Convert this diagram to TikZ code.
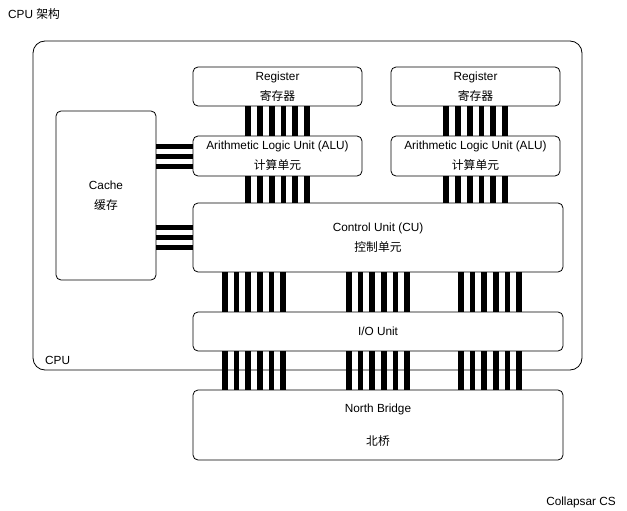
\documentclass[tikz,border=0pt]{standalone}
\usepackage{fontspec}
\setmainfont{Liberation Sans}
\newfontfamily\cjk{Noto Sans CJK SC}
\usetikzlibrary{positioning}

\tikzset{
  unit/.style={draw, line width=0.8pt, rounded corners=5pt, fill=white, align=center,
    inner sep=0pt, font=\fontsize{11.8}{20}\selectfont},
  caption/.style={inner sep=0pt, font=\fontsize{11.8}{14}\selectfont},
  vbus/.style={line width=5.7pt, black},
  hbus/.style={line width=5pt, black}
}

\begin{document}
\begin{tikzpicture}[x=1pt, y=-1pt, node distance=69.5pt, on grid]
   \useasboundingbox (0,0) rectangle (627,511);

   % Outer CPU frame
   \node[draw, line width=0.8pt, rounded corners=12pt, minimum width=549pt, minimum height=329pt]
     (cpu) at (307.5,205.5) {};
   \node[caption, anchor=base west] (cpulbl) at (45,364) {CPU};

   % Registers and ALUs
   \node[unit, minimum width=169pt, minimum height=39pt] (reg1) at (277.5,86.5) {Register\\{\cjk 寄存器}};
   \node[unit, minimum width=169pt, minimum height=39pt] (reg2) [right=198pt of reg1] {Register\\{\cjk 寄存器}};
   \node[unit, minimum width=169pt, minimum height=40pt] (alu1) [below=of reg1] {Arithmetic Logic Unit (ALU)\\{\cjk 计算单元}};
   \node[unit, minimum width=169pt, minimum height=40pt] (alu2) [below=of reg2] {Arithmetic Logic Unit (ALU)\\{\cjk 计算单元}};

   % Cache
   \node[unit, minimum width=100pt, minimum height=169pt] (cache) at (106,195.5) {Cache\\{\cjk 缓存}};

   % Control, I/O, North Bridge
   \node[unit, minimum width=370pt, minimum height=69pt] (cu) at (378,237.5) {Control Unit (CU)\\{\cjk 控制单元}};
   \node[unit, minimum width=370pt, minimum height=39pt] (io) [below=94pt of cu] {I/O Unit};
   \node[unit, minimum width=370pt, minimum height=70pt] (nb) [below=93.5pt of io] {North Bridge\\[13pt]{\cjk 北桥}};

   % Buses
   \foreach \d in {-29.25,-17.55,-5.85,5.85,17.55,29.25} {
     \draw[vbus] ([xshift=\d pt]reg1.south) -- ([xshift=\d pt]alu1.north);
     \draw[vbus] ([xshift=\d pt]reg2.south) -- ([xshift=\d pt]alu2.north);
     \draw[vbus] ([xshift=\d pt]alu1.south) -- ([xshift=\d pt]alu1.south |- cu.north);
     \draw[vbus] ([xshift=\d pt]alu2.south) -- ([xshift=\d pt]alu2.south |- cu.north);
     \foreach \g in {-124,0,112} {
       \draw[vbus] ([xshift=\g pt+\d pt]cu.south) -- ([xshift=\g pt+\d pt]io.north);
       \draw[vbus] ([xshift=\g pt+\d pt]io.south) -- ([xshift=\g pt+\d pt]nb.north);
     }
   }
   \foreach \d in {-10,0,10} {
     \draw[hbus] ([yshift=\d pt]alu1.west) -- ([yshift=\d pt]alu1.west -| cache.east);
     \draw[hbus] ([yshift=\d pt]cu.west) -- ([yshift=\d pt]cu.west -| cache.east);
   }

   % Captions
   \node[caption, anchor=base west] (title) at (8,19) {CPU {\cjk 架构}};
   \node[caption, anchor=base east] (credit) at (616,505) {Collapsar CS};
\end{tikzpicture}
\end{document}
